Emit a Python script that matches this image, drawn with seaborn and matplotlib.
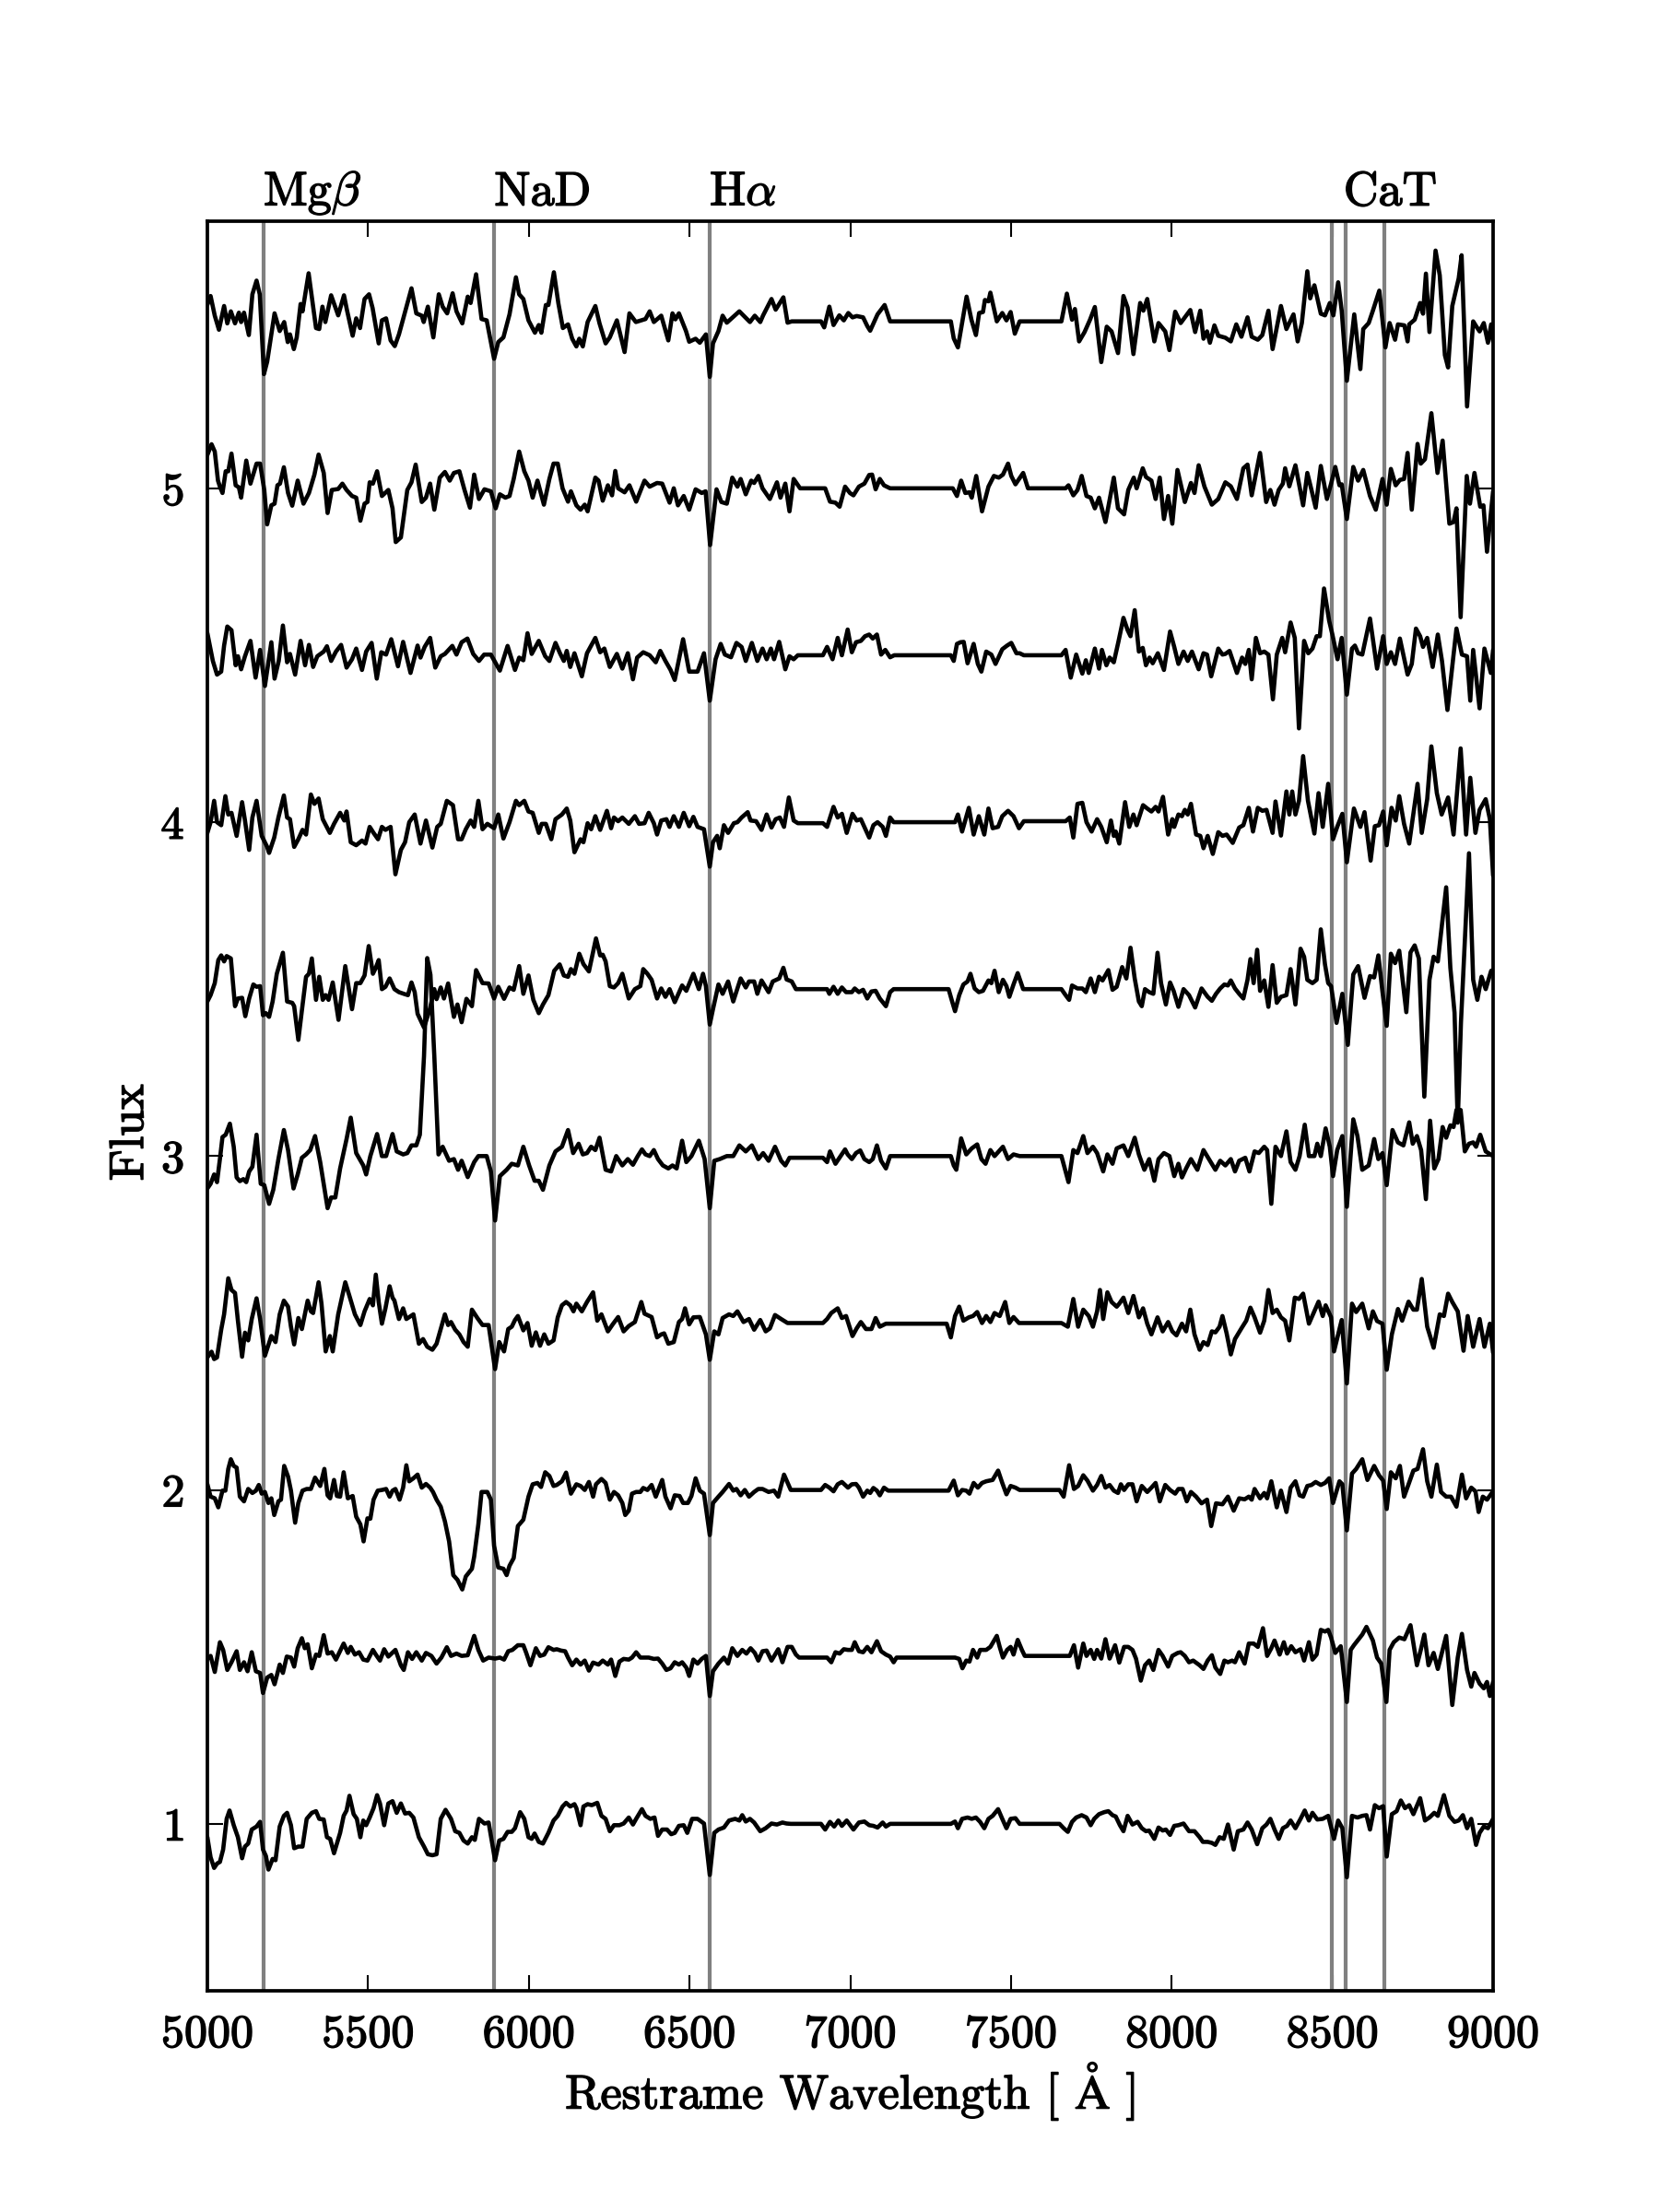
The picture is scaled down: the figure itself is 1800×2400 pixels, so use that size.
import matplotlib
matplotlib.use("Agg")
import matplotlib.pyplot as plt
import matplotlib.patheffects as pe
import seaborn as sns
import pandas as pd

# ---------------- data (wavelength [A], flux) ----------------
spec_55 = [(5000,5.550),(5010,5.576),(5023,5.517),(5036,5.475),(5052,5.546),(5062,5.494),(5073,5.530),(5086,5.494),(5098,5.526),(5105,5.498),(5114,5.526),(5129,5.459),(5140,5.581),(5153,5.622),(5163,5.581),(5176,5.342),(5186,5.379),(5209,5.524),(5225,5.471),(5239,5.498),(5250,5.438),(5257,5.461),(5269,5.417),(5278,5.452),(5290,5.552),(5296,5.530),(5315,5.644),(5325,5.572),(5338,5.480),(5348,5.477),(5358,5.544),(5367,5.498),(5385,5.578),(5407,5.518),(5425,5.578),(5434,5.535),(5452,5.457),(5463,5.509),(5475,5.480),(5489,5.567),(5503,5.581),(5514,5.540),(5533,5.434),(5543,5.503),(5556,5.509),(5570,5.443),(5583,5.426),(5596,5.461),(5635,5.599),(5650,5.524),(5667,5.517),(5673,5.498),(5686,5.544),(5703,5.452),(5720,5.581),(5732,5.544),(5746,5.524),(5763,5.584),(5775,5.530),(5793,5.494),(5810,5.574),(5819,5.555),(5836,5.641),(5853,5.507),(5869,5.503),(5892,5.388),(5905,5.438),(5921,5.452),(5940,5.521),(5960,5.632),(5970,5.581),(5983,5.567),(5999,5.503),(6019,5.466),(6031,5.489),(6039,5.466),(6053,5.549),(6061,5.549),(6078,5.647),(6092,5.554),(6106,5.480),(6122,5.491),(6135,5.448),(6148,5.425),(6157,5.448),(6168,5.425),(6183,5.498),(6207,5.546),(6220,5.494),(6239,5.434),(6252,5.452),(6274,5.503),(6298,5.408),(6313,5.524),(6333,5.498),(6363,5.507),(6376,5.530),(6389,5.498),(6412,5.517),(6434,5.443),(6447,5.524),(6456,5.506),(6467,5.524),(6489,5.471),(6499,5.439),(6519,5.448),(6532,5.436),(6551,5.461),(6563,5.334),(6573,5.434),(6590,5.471),(6603,5.517),(6616,5.496),(6655,5.530),(6688,5.498),(6703,5.517),(6720,5.498),(6729,5.518),(6755,5.567),(6768,5.535),(6792,5.572),(6805,5.496),(6818,5.500),(6909,5.500),(6919,5.482),(6935,5.544),(6948,5.489),(6966,5.518),(6980,5.503),
           (6994,5.525),(7007,5.512),(7020,5.516),(7040,5.512),(7053,5.486),(7062,5.472),(7085,5.521),(7107,5.549),(7124,5.500),(7313,5.500),(7322,5.449),(7335,5.422),(7362,5.574),(7377,5.505),(7391,5.459),(7401,5.525),(7413,5.528),(7419,5.564),(7430,5.560),(7436,5.586),(7456,5.500),(7473,5.525),(7486,5.503),(7499,5.528),(7512,5.463),(7527,5.500),(7657,5.500),(7674,5.583),(7690,5.505),(7699,5.537),(7712,5.440),(7729,5.468),(7746,5.505),(7761,5.543),(7781,5.378),(7798,5.484),(7813,5.470),(7833,5.405),(7850,5.576),(7863,5.541),(7881,5.402),(7902,5.555),(7912,5.532),(7924,5.567),(7946,5.440),(7959,5.495),(7980,5.470),(7993,5.414),(8011,5.529),(8028,5.495),(8058,5.534),(8073,5.468),(8089,5.532),(8099,5.448),(8110,5.470),(8119,5.436),(8133,5.488),(8145,5.457),(8167,5.451),(8184,5.440),(8201,5.491),(8217,5.454),(8236,5.512),(8249,5.454),(8268,5.445),(8282,5.459),(8301,5.532),(8314,5.417),(8340,5.546),(8357,5.477),(8379,5.521),(8392,5.440),(8405,5.495),(8422,5.650),(8431,5.569),(8444,5.608),(8464,5.523),(8477,5.518),(8492,5.555),(8503,5.518),(8518,5.617),(8529,5.532),(8545,5.322),(8568,5.521),(8587,5.357),(8596,5.477),(8613,5.495),(8626,5.532),(8646,5.592),(8665,5.422),(8678,5.495),(8695,5.445),(8704,5.491),(8724,5.488),(8734,5.440),(8739,5.491),(8756,5.505),(8773,5.555),(8782,5.523),(8791,5.643),(8802,5.468),(8821,5.712),(8834,5.638),(8850,5.399),(8860,5.362),(8873,5.546),(8893,5.629),(8902,5.698),(8919,5.245),(8938,5.500),(8947,5.486),(8958,5.470),(8971,5.495),(8984,5.436),(8994,5.491),(9000,5.440)]

spec_50 = [(5000,5.100),(5013,5.132),(5023,5.110),(5033,5.023),(5039,5.005),(5047,4.986),(5057,5.051),(5065,5.051),(5075,5.104),(5088,5.009),(5098,5.003),(5105,4.972),(5121,5.083),(5134,5.014),(5153,5.074),(5164,5.074),(5177,4.995),(5186,4.892),(5199,4.949),(5209,4.954),(5218,5.009),(5226,5.014),(5238,5.063),(5251,4.986),(5264,4.948),(5281,5.023),(5299,4.954),(5316,4.986),(5333,5.041),(5346,5.101),(5362,5.046),(5374,4.926),(5387,4.995),(5407,4.998),(5420,5.014),(5433,4.995),(5450,4.977),(5463,4.972),(5476,4.903),(5489,4.954),(5498,4.959),(5505,5.018),(5515,5.014),(5528,5.051),(5543,4.977),(5563,4.995),(5576,4.940),(5586,4.839),(5602,4.853),(5622,4.995),(5635,5.018),(5648,5.071),(5667,4.959),(5680,4.972),(5693,5.014),(5706,4.936),(5723,5.032),(5739,5.049),(5754,5.023),(5767,5.046),(5784,5.051),(5800,4.995),(5817,4.942),(5830,5.041),(5845,4.968),(5862,4.997),(5882,4.991),(5897,4.940),(5910,4.982),(5927,4.972),(5940,4.977),(5953,5.028),(5970,5.110),(5986,5.051),(5999,5.023),(6012,4.972),(6027,5.023),(6047,4.951),(6064,5.028),(6077,5.074),(6090,5.074),(6105,5.000),(6122,4.960),(6131,4.991),(6148,4.949),(6161,4.936),(6174,4.951),(6183,4.931),(6207,5.032),(6217,5.023),(6230,4.963),(6246,5.009),(6259,4.979),(6269,5.052),(6278,5.000),(6298,4.988),(6313,5.009),(6334,4.960),(6360,5.023),(6376,5.005),(6399,5.016),(6415,5.014),(6438,4.957),(6451,5.000),(6464,4.949),(6482,4.977),(6499,4.936),(6519,4.997),(6538,4.986),(6550,4.991),(6564,4.830),(6584,4.997),(6599,4.959),(6616,4.954),(6633,5.032),(6649,5.005),(6659,5.028),(6675,4.982),(6692,5.023),(6701,5.016),(6714,5.037),(6727,5.000),(6750,4.968),(6772,5.018),(6783,4.972),(6798,5.014),(6811,4.931),(6824,5.028),(6844,5.000),(6922,5.000),(6937,4.960),(6954,4.957),(6967,4.945),(6984,5.005),(6999,4.986),
           (7010,4.979),(7027,5.005),(7044,5.014),(7059,5.040),(7068,5.041),(7079,4.997),(7092,5.028),(7105,5.009),(7124,5.000),(7319,5.000),(7332,4.977),(7345,5.023),(7358,4.986),(7371,4.988),(7378,4.972),(7392,5.037),(7410,4.931),(7430,5.005),(7447,5.037),(7462,5.032),(7475,5.041),(7491,5.074),(7501,5.037),(7514,5.012),(7538,5.046),(7553,5.000),(7670,5.000),(7679,5.009),(7694,4.979),(7707,4.995),(7720,5.037),(7735,4.977),(7748,4.972),(7761,4.940),(7774,4.972),(7794,4.899),(7820,5.032),(7833,4.940),(7852,4.922),(7865,4.995),(7882,5.032),(7891,5.000),(7910,5.060),(7920,5.034),(7937,5.023),(7950,4.968),(7963,5.032),(7976,4.908),(7989,4.977),(8002,4.894),(8018,5.055),(8041,4.959),(8060,5.016),(8071,4.986),(8084,5.069),(8102,5.005),(8125,4.951),(8145,4.968),(8167,5.018),(8184,5.006),(8203,4.968),(8223,5.060),(8236,5.071),(8249,4.979),(8275,5.106),(8294,4.959),(8307,4.995),(8320,4.951),(8333,4.995),(8346,5.014),(8353,5.060),(8366,5.006),(8385,5.069),(8409,4.949),(8422,5.046),(8435,4.995),(8448,4.942),(8464,5.067),(8483,4.968),(8496,5.014),(8509,5.064),(8522,5.009),(8529,5.012),(8545,4.908),(8565,5.064),(8580,5.023),(8596,5.055),(8617,4.977),(8635,4.936),(8656,5.028),(8669,4.951),(8682,5.058),(8697,5.009),(8710,5.025),(8723,5.028),(8734,5.106),(8747,4.936),(8765,5.133),(8775,5.074),(8788,5.087),(8808,5.225),(8827,5.046),(8843,5.143),(8864,4.894),(8877,4.899),(8886,4.940),(8899,4.614),(8918,5.037),(8928,4.954),(8942,5.046),(8960,4.945),(8970,4.949),(8981,4.810),(9000,4.991)]

spec_45 = [(5000,4.566),(5017,4.483),(5030,4.442),(5043,4.451),(5052,4.529),(5062,4.586),(5075,4.575),(5088,4.470),(5095,4.497),(5105,4.458),(5117,4.497),(5134,4.543),(5150,4.433),(5164,4.516),(5179,4.408),(5199,4.539),(5209,4.430),(5222,4.483),(5235,4.589),(5248,4.479),(5257,4.504),(5273,4.442),(5290,4.543),(5304,4.470),(5316,4.531),(5329,4.465),(5342,4.497),(5362,4.511),(5372,4.527),(5385,4.483),(5400,4.511),(5416,4.531),(5433,4.463),(5450,4.488),(5463,4.520),(5481,4.456),(5494,4.511),(5511,4.537),(5527,4.430),(5541,4.509),(5556,4.502),(5572,4.548),(5593,4.467),(5609,4.540),(5632,4.447),(5654,4.529),(5663,4.493),(5676,4.525),(5693,4.552),(5709,4.463),(5726,4.497),(5739,4.504),(5762,4.528),(5775,4.502),(5791,4.539),(5809,4.550),(5827,4.504),(5845,4.483),(5861,4.502),(5882,4.502),(5910,4.454),(5934,4.528),(5957,4.456),(5970,4.493),(5983,4.485),(5996,4.566),(6009,4.504),(6031,4.543),(6051,4.497),(6064,4.483),(6083,4.537),(6097,4.506),(6109,4.483),(6118,4.513),(6129,4.465),(6142,4.506),(6152,4.476),(6165,4.437),(6181,4.506),(6207,4.552),(6222,4.509),(6235,4.520),(6252,4.465),(6274,4.504),(6291,4.460),(6308,4.506),(6324,4.428),(6337,4.493),(6356,4.509),(6376,4.500),(6395,4.479),(6409,4.513),(6425,4.483),(6441,4.456),(6454,4.426),(6480,4.548),(6499,4.451),(6525,4.451),(6545,4.506),(6563,4.364),(6581,4.488),(6597,4.534),(6610,4.502),(6629,4.494),(6646,4.537),(6662,4.525),(6675,4.483),(6694,4.537),(6711,4.483),(6727,4.520),(6740,4.488),(6753,4.520),(6763,4.488),(6779,4.540),(6798,4.458),(6811,4.497),(6824,4.488),(6837,4.500),(6915,4.500),(6928,4.525),(6945,4.488),(6961,4.552),(6974,4.500),
           (6992,4.577),(7005,4.509),(7018,4.539),(7033,4.543),(7046,4.557),(7059,4.562),(7070,4.550),(7083,4.562),(7096,4.502),(7109,4.516),(7124,4.494),(7137,4.500),(7313,4.500),(7322,4.483),(7332,4.534),(7343,4.539),(7353,4.540),(7365,4.476),(7384,4.534),(7397,4.474),(7408,4.451),(7423,4.511),(7439,4.502),(7452,4.474),(7473,4.518),(7488,4.529),(7501,4.537),(7517,4.506),(7527,4.506),(7540,4.500),(7657,4.500),(7670,4.516),(7686,4.433),(7703,4.502),(7722,4.445),(7733,4.485),(7742,4.447),(7761,4.520),(7774,4.460),(7783,4.516),(7797,4.470),(7807,4.493),(7820,4.479),(7834,4.539),(7850,4.612),(7863,4.575),(7872,4.557),(7885,4.635),(7898,4.511),(7910,4.522),(7920,4.470),(7931,4.493),(7941,4.476),(7957,4.506),(7976,4.456),(7995,4.571),(8008,4.525),(8021,4.474),(8037,4.511),(8050,4.483),(8063,4.511),(8084,4.458),(8099,4.506),(8110,4.502),(8123,4.437),(8145,4.520),(8158,4.502),(8167,4.504),(8180,4.513),(8203,4.447),(8219,4.493),(8229,4.474),(8240,4.516),(8249,4.428),(8262,4.552),(8275,4.506),(8288,4.511),(8301,4.502),(8315,4.368),(8327,4.502),(8344,4.552),(8353,4.509),(8370,4.598),(8383,4.552),(8396,4.281),(8412,4.543),(8425,4.506),(8438,4.520),(8451,4.557),(8461,4.557),(8474,4.700),(8490,4.603),(8500,4.562),(8516,4.488),(8529,4.552),(8545,4.382),(8561,4.520),(8570,4.529),(8580,4.506),(8593,4.502),(8617,4.610),(8639,4.460),(8658,4.557),(8669,4.474),(8682,4.509),(8695,4.474),(8710,4.550),(8734,4.442),(8747,4.474),(8760,4.580),(8773,4.557),(8782,4.525),(8795,4.552),(8812,4.465),(8828,4.562),(8841,4.483),(8858,4.336),(8886,4.580),(8903,4.502),(8919,4.497),(8929,4.364),(8938,4.516),(8958,4.341),(8973,4.520),(8993,4.447),(9000,4.516)]

spec_40 = [(5000,3.968),(5010,4.000),(5021,4.064),(5030,4.000),(5043,3.991),(5056,4.078),(5065,4.023),(5075,4.028),(5091,3.959),(5108,4.060),(5117,4.005),(5130,3.917),(5140,4.014),(5153,4.064),(5169,3.959),(5186,3.926),(5192,3.908),(5208,3.954),(5221,4.014),(5238,4.080),(5248,4.014),(5257,4.009),(5270,3.926),(5283,3.949),(5296,3.977),(5307,3.963),(5322,4.083),(5333,4.055),(5346,4.071),(5359,4.009),(5381,3.968),(5394,3.995),(5413,4.028),(5426,4.005),(5433,4.032),(5446,3.940),(5463,3.931),(5481,3.945),(5492,3.936),(5505,3.986),(5517,3.968),(5531,3.949),(5543,3.986),(5554,3.977),(5570,3.986),(5585,3.844),(5602,3.917),(5615,3.940),(5628,4.000),(5645,4.023),(5663,3.936),(5680,4.005),(5700,3.924),(5715,3.986),(5726,3.995),(5745,4.064),(5764,4.051),(5780,3.949),(5791,3.949),(5804,3.979),(5819,4.005),(5830,3.986),(5843,4.064),(5856,3.979),(5871,3.995),(5892,3.982),(5905,4.023),(5921,3.951),(5940,4.000),(5960,4.064),(5970,4.051),(5986,4.064),(5999,4.032),(6012,4.028),(6031,3.968),(6040,3.995),(6053,3.995),(6070,3.949),(6083,4.009),(6103,4.023),(6118,4.041),(6129,4.005),(6142,3.910),(6161,3.949),(6170,3.940),(6183,3.997),(6194,3.979),(6207,4.018),(6222,3.977),(6243,4.034),(6256,3.982),(6265,4.014),(6278,4.003),(6291,4.014),(6311,3.995),(6330,4.018),(6343,3.995),(6360,3.997),(6373,4.028),(6389,3.997),(6399,3.963),(6412,4.005),(6428,4.009),(6438,3.986),(6451,4.018),(6467,3.986),(6482,4.028),(6499,3.988),(6512,4.016),(6525,3.986),(6545,3.979),(6563,3.867),(6573,3.940),(6586,3.959),(6594,3.922),(6607,3.991),(6620,3.968),(6638,3.997),(6649,4.000),(6662,4.014),(6681,4.030),(6690,4.005),(6707,4.003),(6724,3.977),(6740,4.023),(6755,3.984),(6768,4.009),(6781,4.014),(6794,3.986),(6809,4.074),(6824,4.005),(6837,3.997),(6915,3.997),(6928,3.986),(6948,4.046),(6961,4.014),(6974,4.025),(6989,3.968),
           (7007,4.025),(7020,4.005),(7033,4.009),(7044,3.986),(7059,3.954),(7072,3.991),(7085,4.000),(7101,3.986),(7111,3.959),(7124,4.014),(7135,4.000),(7326,4.000),(7335,4.023),(7348,3.972),(7369,4.043),(7384,3.963),(7400,4.018),(7417,3.963),(7430,4.041),(7443,3.982),(7460,3.986),(7473,4.018),(7491,4.034),(7508,4.018),(7525,3.982),(7540,4.003),(7670,4.003),(7683,4.014),(7694,3.954),(7707,4.055),(7722,4.058),(7735,4.000),(7751,3.972),(7768,4.009),(7781,3.986),(7798,3.940),(7811,4.005),(7820,3.959),(7826,3.972),(7837,3.936),(7855,4.060),(7868,3.986),(7881,4.023),(7891,3.991),(7911,4.051),(7924,4.041),(7937,4.032),(7950,4.046),(7959,4.032),(7973,4.076),(7989,3.963),(8002,4.009),(8008,3.986),(8021,4.023),(8032,4.018),(8041,4.037),(8050,4.023),(8060,4.055),(8076,3.963),(8089,3.959),(8099,3.922),(8112,3.959),(8128,3.905),(8145,3.970),(8158,3.959),(8171,3.963),(8190,3.938),(8210,3.984),(8223,3.991),(8240,4.043),(8253,3.972),(8268,4.043),(8282,4.034),(8295,4.037),(8314,3.968),(8323,4.062),(8340,3.960),(8357,4.092),(8366,4.023),(8375,4.092),(8385,4.023),(8396,4.064),(8409,4.198),(8424,4.064),(8444,3.966),(8457,4.087),(8470,3.986),(8487,4.115),(8502,3.949),(8515,3.986),(8531,4.025),(8545,3.880),(8567,4.041),(8587,3.986),(8600,4.030),(8619,3.885),(8632,3.988),(8645,3.991),(8658,4.032),(8669,3.931),(8684,4.043),(8697,4.005),(8708,4.078),(8723,3.995),(8739,3.936),(8765,4.115),(8778,3.968),(8795,4.069),(8808,4.227),(8825,4.087),(8840,4.023),(8860,4.074),(8877,3.963),(8899,4.221),(8916,3.963),(8929,4.133),(8945,3.968),(8958,4.037),(8977,4.069),(8990,4.009),(9000,3.840)]

spec_35 = [(5000,3.463),(5010,3.482),(5023,3.518),(5034,3.587),(5043,3.601),(5052,3.583),(5060,3.599),(5073,3.592),(5086,3.449),(5095,3.472),(5108,3.474),(5118,3.419),(5130,3.472),(5143,3.514),(5153,3.507),(5164,3.509),(5173,3.422),(5182,3.428),(5192,3.417),(5203,3.463),(5216,3.546),(5235,3.609),(5248,3.463),(5264,3.459),(5270,3.449),(5283,3.348),(5294,3.436),(5307,3.537),(5316,3.546),(5325,3.592),(5338,3.468),(5348,3.537),(5359,3.468),(5368,3.482),(5377,3.468),(5390,3.520),(5408,3.408),(5429,3.569),(5450,3.440),(5463,3.518),(5476,3.518),(5489,3.541),(5502,3.629),(5515,3.546),(5524,3.564),(5533,3.587),(5543,3.500),(5554,3.507),(5567,3.532),(5582,3.500),(5596,3.491),(5611,3.486),(5624,3.482),(5635,3.520),(5645,3.491),(5654,3.426),(5674,3.385),(5692,3.440),(5706,3.500),(5713,3.470),(5726,3.505),(5736,3.472),(5749,3.517),(5767,3.417),(5778,3.454),(5791,3.401),(5806,3.471),(5823,3.449),(5836,3.557),(5856,3.518),(5875,3.517),(5892,3.472),(5905,3.507),(5923,3.471),(5940,3.505),(5953,3.498),(5970,3.569),(5983,3.486),(5999,3.541),(6014,3.468),(6031,3.428),(6044,3.454),(6061,3.482),(6079,3.555),(6096,3.574),(6109,3.541),(6122,3.537),(6131,3.560),(6142,3.546),(6157,3.606),(6170,3.575),(6187,3.553),(6209,3.652),(6222,3.601),(6230,3.603),(6239,3.583),(6252,3.509),(6265,3.505),(6278,3.518),(6291,3.546),(6311,3.472),(6330,3.500),(6347,3.509),(6356,3.560),(6369,3.546),(6382,3.528),(6399,3.472),(6412,3.502),(6425,3.477),(6438,3.500),(6454,3.461),(6477,3.511),(6490,3.495),(6512,3.546),(6529,3.500),(6542,3.546),(6551,3.509),(6563,3.394),(6573,3.440),(6590,3.514),(6603,3.486),(6620,3.523),(6636,3.463),(6659,3.532),(6675,3.505),(6685,3.523),(6701,3.523),(6711,3.486),(6724,3.526),(6746,3.491),(6759,3.523),(6779,3.532),(6792,3.564),(6802,3.529),(6818,3.523),(6831,3.500),(6928,3.500),(6935,3.486),(6948,3.507),(6961,3.486),(6974,3.505),(6987,3.491),
           (7005,3.491),(7014,3.502),(7027,3.491),(7040,3.498),(7053,3.472),(7066,3.493),(7079,3.495),(7092,3.472),(7111,3.449),(7124,3.491),(7135,3.500),(7306,3.500),(7317,3.463),(7326,3.434),(7339,3.482),(7352,3.514),(7365,3.523),(7374,3.546),(7387,3.502),(7400,3.491),(7413,3.495),(7430,3.526),(7439,3.518),(7449,3.555),(7462,3.491),(7475,3.528),(7486,3.509),(7495,3.477),(7508,3.514),(7521,3.548),(7538,3.500),(7657,3.500),(7670,3.482),(7681,3.468),(7690,3.511),(7707,3.502),(7722,3.502),(7733,3.491),(7748,3.532),(7761,3.491),(7774,3.537),(7785,3.526),(7803,3.557),(7816,3.498),(7829,3.507),(7846,3.566),(7859,3.532),(7872,3.624),(7885,3.532),(7898,3.463),(7907,3.449),(7917,3.500),(7930,3.491),(7943,3.486),(7956,3.609),(7967,3.518),(7982,3.454),(7995,3.520),(8006,3.495),(8021,3.447),(8037,3.500),(8054,3.482),(8073,3.445),(8093,3.502),(8112,3.477),(8125,3.465),(8138,3.486),(8151,3.502),(8164,3.514),(8175,3.511),(8184,3.526),(8197,3.502),(8210,3.486),(8223,3.472),(8236,3.528),(8245,3.590),(8255,3.518),(8266,3.618),(8275,3.495),(8288,3.526),(8301,3.447),(8314,3.572),(8327,3.459),(8340,3.477),(8357,3.482),(8370,3.560),(8385,3.454),(8401,3.621),(8412,3.597),(8422,3.528),(8438,3.518),(8451,3.528),(8464,3.679),(8477,3.574),(8487,3.518),(8496,3.509),(8513,3.399),(8531,3.486),(8548,3.333),(8565,3.544),(8580,3.569),(8600,3.474),(8617,3.539),(8630,3.535),(8643,3.601),(8656,3.491),(8669,3.390),(8682,3.606),(8695,3.578),(8708,3.615),(8730,3.431),(8743,3.610),(8756,3.631),(8769,3.592),(8786,3.178),(8802,3.528),(8815,3.597),(8828,3.583),(8854,3.805),(8867,3.564),(8880,3.430),(8890,3.100),(8900,3.400),(8925,3.907),(8938,3.528),(8951,3.468),(8964,3.537),(8977,3.500),(8994,3.555),(9000,3.557)]

spec_30 = [(5000,2.903),(5010,2.917),(5021,2.945),(5030,2.922),(5039,2.991),(5047,3.057),(5057,3.064),(5070,3.097),(5082,3.028),(5091,2.936),(5101,2.925),(5112,2.931),(5121,2.922),(5130,2.954),(5140,2.968),(5153,3.064),(5166,2.917),(5177,2.913),(5192,2.857),(5205,2.899),(5221,2.991),(5238,3.078),(5251,3.018),(5268,2.903),(5281,2.945),(5294,2.995),(5307,3.005),(5320,3.018),(5335,3.060),(5351,2.982),(5374,2.844),(5385,2.876),(5398,2.876),(5413,2.963),(5433,3.051),(5446,3.115),(5463,3.009),(5485,2.972),(5494,2.945),(5507,3.000),(5528,3.066),(5543,3.000),(5556,3.000),(5576,3.066),(5589,3.014),(5609,3.005),(5622,3.009),(5635,3.032),(5650,3.032),(5661,3.064),(5674,3.300),(5684,3.593),(5694,3.543),(5706,3.300),(5719,3.005),(5732,3.028),(5752,2.986),(5767,2.991),(5780,2.959),(5791,2.986),(5810,2.937),(5830,2.982),(5843,3.000),(5869,3.000),(5882,2.954),(5895,2.807),(5910,2.940),(5931,2.959),(5947,2.977),(5966,2.972),(5983,3.028),(6001,2.972),(6018,2.926),(6031,2.926),(6044,2.899),(6064,2.972),(6083,3.014),(6103,3.028),(6122,3.078),(6138,3.009),(6155,3.037),(6168,3.005),(6181,3.009),(6194,3.028),(6207,3.018),(6220,3.055),(6239,2.959),(6256,2.954),(6272,3.000),(6291,2.972),(6308,2.991),(6324,2.974),(6339,3.000),(6352,3.020),(6363,3.005),(6376,3.000),(6389,3.018),(6402,2.991),(6417,2.972),(6434,2.963),(6447,2.972),(6460,2.963),(6477,3.046),(6490,2.982),(6506,3.000),(6529,3.046),(6547,2.991),(6563,2.844),(6577,2.986),(6594,2.991),(6616,3.000),(6636,3.000),(6655,3.032),(6675,3.014),(6694,3.032),(6714,2.991),(6729,3.009),(6746,2.986),(6766,3.028),(6785,2.986),(6798,2.972),(6811,2.995),(6824,2.995),(6915,2.995),(6928,2.982),(6937,3.014),(6954,2.977),(6984,3.020),
           (6992,3.005),(7005,2.991),(7018,3.009),(7031,3.017),(7044,2.991),(7059,2.982),(7070,2.991),(7083,3.032),(7096,2.986),(7111,2.963),(7124,3.000),(7313,3.000),(7322,2.972),(7330,2.959),(7345,3.053),(7361,3.005),(7378,3.023),(7395,3.035),(7408,2.991),(7421,2.977),(7436,3.018),(7449,3.000),(7462,3.014),(7475,3.028),(7491,2.991),(7508,3.005),(7527,3.000),(7657,3.000),(7670,2.954),(7679,2.922),(7694,3.018),(7707,3.009),(7725,3.060),(7738,3.009),(7755,3.028),(7768,3.009),(7787,2.954),(7800,3.005),(7816,2.977),(7829,3.023),(7850,3.032),(7865,3.000),(7885,3.055),(7898,3.005),(7915,2.959),(7930,2.991),(7946,2.926),(7959,2.991),(7976,3.009),(7993,3.000),(8008,2.940),(8021,2.977),(8032,2.936),(8045,2.963),(8060,2.991),(8080,2.959),(8099,3.018),(8119,2.986),(8136,2.959),(8151,2.986),(8167,2.972),(8184,2.991),(8197,2.954),(8210,2.986),(8229,2.995),(8242,2.954),(8258,3.014),(8271,3.009),(8288,3.028),(8297,3.018),(8310,2.857),(8323,3.028),(8340,3.000),(8357,3.074),(8370,2.982),(8385,2.959),(8398,3.000),(8414,3.094),(8427,3.000),(8444,3.000),(8453,3.037),(8464,3.000),(8479,3.083),(8492,3.028),(8502,2.940),(8515,3.018),(8531,3.060),(8545,2.848),(8565,3.110),(8578,3.060),(8593,2.959),(8613,2.972),(8630,3.051),(8643,2.991),(8656,3.009),(8669,2.913),(8687,3.078),(8704,3.041),(8721,3.032),(8739,3.101),(8750,3.037),(8763,3.060),(8776,3.018),(8791,2.871),(8804,3.106),(8817,2.963),(8830,2.991),(8843,3.087),(8854,3.055),(8867,3.092),(8877,3.087),(8886,3.138),(8899,3.138),(8912,3.014),(8925,3.037),(8938,3.041),(8947,3.028),(8960,3.064),(8977,3.014),(9000,3.000)]

spec_25 = [(5000,2.397),(5013,2.414),(5021,2.392),(5030,2.397),(5043,2.480),(5052,2.526),(5065,2.634),(5075,2.599),(5086,2.590),(5095,2.507),(5108,2.399),(5117,2.471),(5127,2.448),(5138,2.512),(5153,2.574),(5164,2.512),(5179,2.402),(5199,2.461),(5212,2.443),(5225,2.526),(5238,2.567),(5251,2.549),(5260,2.489),(5270,2.436),(5283,2.515),(5294,2.482),(5312,2.567),(5322,2.535),(5329,2.530),(5346,2.622),(5355,2.558),(5368,2.415),(5381,2.461),(5390,2.415),(5407,2.526),(5429,2.622),(5442,2.581),(5459,2.526),(5476,2.494),(5489,2.535),(5505,2.572),(5515,2.553),(5524,2.645),(5533,2.563),(5543,2.498),(5554,2.544),(5567,2.610),(5576,2.576),(5582,2.567),(5596,2.512),(5609,2.544),(5619,2.512),(5641,2.526),(5658,2.438),(5671,2.452),(5684,2.429),(5700,2.420),(5713,2.438),(5739,2.526),(5749,2.494),(5758,2.503),(5771,2.480),(5784,2.466),(5797,2.443),(5810,2.429),(5823,2.540),(5840,2.515),(5856,2.494),(5875,2.494),(5895,2.362),(5908,2.443),(5923,2.415),(5936,2.482),(5947,2.489),(5957,2.509),(5966,2.521),(5983,2.478),(5996,2.500),(6009,2.432),(6022,2.472),(6035,2.432),(6048,2.466),(6061,2.438),(6077,2.448),(6090,2.517),(6103,2.553),(6116,2.563),(6129,2.553),(6139,2.535),(6148,2.558),(6165,2.535),(6181,2.563),(6200,2.592),(6213,2.507),(6226,2.526),(6246,2.475),(6261,2.496),(6278,2.518),(6295,2.475),(6311,2.491),(6330,2.503),(6350,2.563),(6360,2.528),(6382,2.518),(6399,2.457),(6412,2.466),(6421,2.469),(6434,2.438),(6451,2.443),(6467,2.503),(6477,2.512),(6486,2.544),(6499,2.496),(6512,2.517),(6532,2.518),(6551,2.466),(6563,2.390),(6577,2.475),(6590,2.466),(6603,2.515),(6623,2.526),(6636,2.521),(6649,2.535),(6668,2.503),(6685,2.512),(6701,2.480),(6720,2.509),(6737,2.475),(6750,2.484),(6766,2.524),(6785,2.512),(6805,2.500),(6915,2.500),(6928,2.512),(6941,2.530),(6961,2.544),(6974,2.515),(6987,2.521),
           (7007,2.461),(7020,2.484),(7033,2.503),(7049,2.482),(7066,2.482),(7079,2.515),(7092,2.489),(7111,2.498),(7300,2.498),(7313,2.457),(7326,2.521),(7339,2.549),(7352,2.507),(7369,2.517),(7382,2.521),(7395,2.533),(7410,2.500),(7423,2.521),(7436,2.503),(7449,2.530),(7465,2.521),(7482,2.563),(7495,2.500),(7508,2.518),(7525,2.500),(7657,2.500),(7677,2.489),(7694,2.572),(7709,2.489),(7725,2.540),(7742,2.521),(7755,2.489),(7768,2.535),(7777,2.599),(7787,2.512),(7800,2.592),(7813,2.563),(7829,2.549),(7837,2.558),(7850,2.576),(7865,2.530),(7881,2.581),(7898,2.517),(7911,2.544),(7924,2.498),(7937,2.466),(7956,2.517),(7972,2.475),(7989,2.503),(8002,2.475),(8015,2.463),(8032,2.498),(8045,2.475),(8058,2.540),(8071,2.466),(8087,2.420),(8099,2.443),(8112,2.434),(8125,2.475),(8136,2.472),(8149,2.489),(8158,2.521),(8171,2.469),(8184,2.406),(8197,2.452),(8217,2.484),(8232,2.507),(8245,2.546),(8258,2.517),(8275,2.471),(8288,2.507),(8301,2.599),(8314,2.530),(8327,2.540),(8340,2.517),(8353,2.507),(8366,2.448),(8383,2.576),(8396,2.572),(8409,2.588),(8427,2.498),(8444,2.535),(8457,2.564),(8470,2.521),(8479,2.553),(8496,2.517),(8505,2.415),(8529,2.509),(8545,2.319),(8561,2.558),(8574,2.533),(8593,2.558),(8613,2.484),(8626,2.535),(8639,2.506),(8656,2.498),(8669,2.360),(8685,2.466),(8704,2.542),(8717,2.507),(8737,2.564),(8752,2.540),(8763,2.540),(8778,2.632),(8795,2.489),(8815,2.426),(8834,2.526),(8847,2.521),(8860,2.588),(8873,2.563),(8890,2.535),(8908,2.417),(8921,2.521),(8938,2.429),(8958,2.512),(8973,2.429),(8990,2.498),(9000,2.411)]

spec_20 = [(5000,2.017),(5010,1.980),(5023,1.975),(5034,1.948),(5047,1.998),(5056,1.998),(5065,2.063),(5073,2.092),(5082,2.072),(5091,2.067),(5101,1.980),(5114,1.966),(5127,2.003),(5140,1.991),(5151,1.998),(5160,2.015),(5169,1.989),(5179,1.994),(5190,1.961),(5199,1.975),(5208,1.925),(5221,1.966),(5229,1.971),(5239,2.072),(5251,2.040),(5260,1.998),(5273,1.902),(5283,1.961),(5296,1.998),(5309,2.003),(5322,2.003),(5335,2.037),(5351,2.012),(5364,2.063),(5374,1.984),(5382,1.975),(5394,2.030),(5403,1.982),(5413,1.980),(5424,2.053),(5437,1.975),(5452,1.982),(5463,1.920),(5476,1.897),(5486,1.846),(5498,1.915),(5507,1.914),(5517,1.971),(5530,1.998),(5543,2.000),(5556,2.003),(5567,1.980),(5576,1.998),(5585,2.003),(5598,1.971),(5609,2.007),(5619,2.074),(5628,2.026),(5641,2.035),(5654,2.046),(5667,2.007),(5680,2.018),(5693,2.007),(5702,1.994),(5713,1.971),(5726,1.950),(5739,1.906),(5752,1.846),(5765,1.745),(5778,1.731),(5793,1.702),(5804,1.741),(5823,1.764),(5830,1.800),(5843,1.897),(5853,1.994),(5871,1.994),(5882,1.971),(5892,1.833),(5905,1.768),(5921,1.764),(5931,1.745),(5940,1.773),(5953,1.796),(5966,1.892),(5983,1.911),(5999,1.980),(6012,2.017),(6027,2.021),(6038,2.009),(6051,2.053),(6064,2.042),(6077,2.012),(6087,2.015),(6103,2.026),(6116,2.052),(6131,1.989),(6148,2.017),(6161,2.012),(6174,2.000),(6187,2.024),(6200,1.980),(6209,2.017),(6226,2.033),(6239,2.021),(6252,1.971),(6265,1.994),(6278,1.984),(6291,1.961),(6300,1.925),(6311,1.938),(6321,1.989),(6334,1.994),(6347,1.994),(6356,2.006),(6369,2.000),(6382,2.015),(6395,1.980),(6415,2.030),(6425,1.980),(6441,1.945),(6454,1.984),(6469,1.982),(6480,1.961),(6495,1.961),(6506,1.982),(6519,2.035),(6532,1.998),(6545,1.989),(6563,1.865),(6573,1.961),(6590,1.980),(6603,1.994),(6623,2.018),(6636,1.998),(6646,2.003),(6659,1.984),(6672,2.000),(6685,1.980),(6701,1.994),(6714,2.003),(6727,2.003),(6746,1.994),(6763,1.998),(6776,1.980),(6794,2.046),(6815,2.000),(6909,2.000),(6922,2.015),(6935,2.007),(6948,1.996),(6961,2.017),(6974,2.024),(6993,2.007),
           (7005,2.017),(7018,2.018),(7027,2.007),(7040,1.980),(7053,1.998),(7062,1.991),(7072,2.006),(7083,1.998),(7092,1.984),(7105,2.007),(7118,1.998),(7306,1.998),(7322,2.028),(7335,1.984),(7348,2.000),(7361,1.998),(7371,1.989),(7384,2.021),(7397,2.007),(7410,2.021),(7423,2.026),(7443,2.030),(7460,2.058),(7473,2.021),(7486,1.987),(7499,2.012),(7514,2.007),(7527,2.000),(7651,2.000),(7664,1.980),(7681,2.074),(7696,2.003),(7709,2.012),(7725,2.044),(7738,2.028),(7755,1.998),(7768,2.015),(7781,2.042),(7794,2.007),(7807,2.015),(7820,1.998),(7833,1.991),(7842,2.017),(7852,2.000),(7865,2.017),(7878,2.017),(7891,1.966),(7907,2.012),(7924,1.994),(7937,2.007),(7950,2.021),(7963,1.966),(7980,2.015),(7995,2.000),(8011,1.989),(8021,2.003),(8034,2.003),(8047,1.966),(8060,1.994),(8076,1.980),(8093,1.960),(8110,1.971),(8123,1.892),(8138,1.960),(8158,1.957),(8175,1.980),(8193,1.938),(8210,1.975),(8227,1.972),(8240,1.980),(8249,1.971),(8258,2.003),(8275,1.975),(8288,1.991),(8297,1.975),(8310,2.026),(8327,1.948),(8340,1.998),(8357,1.934),(8370,2.007),(8385,2.026),(8398,1.984),(8409,1.980),(8422,2.012),(8435,2.015),(8448,2.024),(8464,2.015),(8477,2.021),(8490,2.035),(8502,1.961),(8522,2.026),(8531,2.017),(8545,1.879),(8561,2.049),(8574,2.063),(8593,2.092),(8609,2.030),(8630,2.072),(8645,2.044),(8658,2.028),(8669,1.943),(8682,2.053),(8697,2.035),(8710,2.072),(8723,1.980),(8737,2.017),(8752,2.058),(8765,2.063),(8782,2.122),(8795,2.026),(8808,1.980),(8825,2.076),(8838,1.994),(8854,1.980),(8869,1.980),(8886,1.950),(8903,2.046),(8916,1.975),(8932,2.007),(8945,1.996),(8955,1.934),(8968,1.980),(8981,1.971),(9000,1.996)]

spec_15 = [(5000,1.494),(5010,1.503),(5023,1.455),(5039,1.544),(5049,1.521),(5062,1.461),(5075,1.484),(5091,1.517),(5101,1.461),(5114,1.484),(5125,1.457),(5138,1.514),(5151,1.457),(5164,1.452),(5173,1.392),(5186,1.438),(5199,1.446),(5209,1.418),(5225,1.477),(5235,1.452),(5247,1.501),(5260,1.498),(5270,1.471),(5281,1.526),(5294,1.556),(5303,1.526),(5312,1.538),(5325,1.466),(5338,1.507),(5348,1.503),(5362,1.565),(5374,1.510),(5387,1.514),(5400,1.492),(5424,1.540),(5437,1.512),(5446,1.530),(5459,1.507),(5472,1.514),(5485,1.492),(5498,1.489),(5515,1.521),(5524,1.507),(5537,1.489),(5550,1.523),(5563,1.501),(5585,1.521),(5602,1.475),(5611,1.461),(5624,1.514),(5637,1.494),(5650,1.514),(5667,1.489),(5680,1.512),(5697,1.503),(5713,1.480),(5728,1.498),(5745,1.529),(5758,1.503),(5775,1.510),(5791,1.503),(5810,1.505),(5830,1.563),(5843,1.521),(5858,1.489),(5875,1.498),(5895,1.495),(5910,1.498),(5923,1.492),(5936,1.517),(5949,1.521),(5966,1.535),(5983,1.535),(5992,1.512),(6005,1.475),(6022,1.526),(6035,1.503),(6048,1.507),(6061,1.529),(6077,1.521),(6087,1.523),(6100,1.519),(6113,1.517),(6122,1.498),(6135,1.475),(6148,1.492),(6161,1.477),(6174,1.489),(6187,1.459),(6200,1.483),(6217,1.477),(6230,1.489),(6246,1.477),(6256,1.492),(6269,1.443),(6282,1.486),(6295,1.494),(6311,1.492),(6321,1.498),(6334,1.514),(6347,1.498),(6373,1.498),(6389,1.494),(6402,1.495),(6415,1.480),(6428,1.461),(6441,1.466),(6454,1.484),(6467,1.477),(6477,1.484),(6490,1.468),(6499,1.443),(6512,1.492),(6525,1.480),(6538,1.494),(6551,1.503),(6563,1.383),(6573,1.457),(6590,1.480),(6607,1.498),(6620,1.480),(6633,1.526),(6649,1.503),(6664,1.521),(6677,1.510),(6690,1.526),(6703,1.512),(6714,1.489),(6727,1.517),(6740,1.519),(6755,1.489),(6776,1.523),(6789,1.484),(6805,1.530),(6818,1.530),(6831,1.507),(6841,1.498),(6928,1.498),(6941,1.484),(6954,1.514),(6967,1.510),(6980,1.523),(6993,1.521),
           (7005,1.521),(7014,1.544),(7027,1.517),(7040,1.514),(7053,1.530),(7066,1.514),(7083,1.547),(7096,1.517),(7111,1.507),(7124,1.501),(7135,1.484),(7144,1.498),(7326,1.498),(7339,1.494),(7349,1.466),(7361,1.489),(7371,1.486),(7382,1.521),(7395,1.498),(7404,1.521),(7423,1.521),(7436,1.530),(7456,1.563),(7465,1.530),(7475,1.498),(7488,1.521),(7499,1.530),(7508,1.507),(7521,1.551),(7534,1.521),(7543,1.503),(7683,1.503),(7696,1.535),(7709,1.468),(7725,1.540),(7735,1.503),(7748,1.521),(7759,1.494),(7768,1.521),(7781,1.495),(7794,1.553),(7807,1.495),(7824,1.535),(7837,1.483),(7852,1.530),(7865,1.530),(7878,1.521),(7889,1.495),(7904,1.429),(7917,1.475),(7930,1.489),(7943,1.461),(7959,1.521),(7972,1.503),(7989,1.471),(8002,1.503),(8019,1.512),(8028,1.514),(8041,1.503),(8054,1.484),(8067,1.489),(8087,1.475),(8099,1.464),(8112,1.489),(8125,1.505),(8136,1.468),(8151,1.449),(8164,1.489),(8175,1.484),(8188,1.489),(8197,1.484),(8210,1.514),(8227,1.480),(8240,1.540),(8255,1.540),(8268,1.530),(8284,1.586),(8297,1.503),(8310,1.526),(8320,1.549),(8336,1.507),(8349,1.544),(8359,1.510),(8372,1.532),(8385,1.514),(8401,1.523),(8412,1.489),(8427,1.544),(8438,1.492),(8451,1.507),(8464,1.581),(8477,1.576),(8487,1.581),(8496,1.558),(8509,1.512),(8526,1.532),(8545,1.365),(8557,1.521),(8567,1.535),(8580,1.551),(8593,1.567),(8606,1.590),(8626,1.549),(8639,1.498),(8652,1.480),(8668,1.365),(8678,1.521),(8691,1.544),(8708,1.558),(8724,1.553),(8743,1.595),(8763,1.475),(8775,1.521),(8786,1.567),(8799,1.475),(8815,1.512),(8828,1.464),(8854,1.563),(8873,1.356),(8890,1.498),(8903,1.569),(8919,1.461),(8932,1.411),(8942,1.452),(8958,1.420),(8971,1.406),(8981,1.425),(8990,1.383),(9000,1.425)]

spec_10 = [(5000,0.960),(5010,0.900),(5021,0.868),(5030,0.881),(5039,0.886),(5049,0.923),(5060,1.015),(5069,1.040),(5082,0.996),(5095,0.960),(5108,0.897),(5117,0.932),(5127,0.941),(5138,0.983),(5153,0.992),(5164,1.006),(5173,0.923),(5182,0.904),(5190,0.863),(5203,0.895),(5212,0.891),(5225,0.992),(5238,1.024),(5248,1.033),(5260,0.996),(5270,0.927),(5283,0.932),(5296,0.932),(5309,1.015),(5325,1.033),(5338,1.038),(5348,1.015),(5362,1.013),(5372,0.960),(5382,0.955),(5394,0.912),(5413,0.973),(5424,1.024),(5433,1.040),(5442,1.084),(5455,1.029),(5465,1.015),(5476,0.960),(5485,1.010),(5494,0.996),(5505,1.019),(5517,1.047),(5528,1.086),(5537,1.061),(5550,0.996),(5563,1.061),(5576,1.068),(5589,1.033),(5602,1.061),(5615,1.031),(5628,1.033),(5641,1.019),(5658,0.960),(5674,0.932),(5686,0.909),(5700,0.906),(5713,0.909),(5726,1.015),(5741,1.042),(5758,1.015),(5771,0.978),(5784,0.973),(5797,0.950),(5810,0.941),(5823,0.960),(5832,0.952),(5845,1.015),(5862,1.001),(5875,1.004),(5895,0.891),(5908,0.950),(5921,0.955),(5934,0.976),(5947,0.976),(5957,0.987),(5973,1.035),(5986,1.015),(5999,0.960),(6009,0.955),(6018,0.971),(6031,0.946),(6044,0.941),(6061,0.973),(6077,1.010),(6090,1.024),(6105,1.052),(6116,1.063),(6129,1.052),(6142,1.059),(6148,1.047),(6161,0.996),(6170,1.052),(6183,1.059),(6196,1.056),(6213,1.063),(6226,1.024),(6239,1.015),(6252,0.978),(6265,0.996),(6282,0.996),(6295,1.001),(6311,1.019),(6324,0.998),(6334,1.015),(6352,1.044),(6363,1.024),(6378,1.015),(6391,1.019),(6402,0.964),(6415,0.983),(6430,0.983),(6443,0.969),(6454,0.973),(6467,0.994),(6482,0.996),(6493,0.973),(6508,1.015),(6525,1.015),(6545,1.001),(6563,0.847),(6577,0.973),(6590,0.983),(6607,0.989),(6623,1.010),(6642,1.015),(6655,1.010),(6664,1.026),(6675,1.007),(6688,1.015),(6701,1.004),(6720,0.978),(6737,0.987),(6755,1.001),(6772,0.998),(6789,1.004),(6802,1.001),(6815,1.000),(6909,1.000),(6922,0.983),(6937,1.006),(6950,0.992),(6963,1.010),(6974,0.994),(6989,1.010),
           (7010,0.983),(7027,1.004),(7044,1.007),(7059,0.996),(7072,0.994),(7085,0.989),(7101,1.004),(7111,0.992),(7124,1.000),(7313,1.000),(7326,1.007),(7335,0.987),(7348,1.015),(7365,1.019),(7378,1.015),(7391,1.019),(7404,1.006),(7417,0.987),(7430,1.015),(7443,1.024),(7460,1.044),(7473,1.015),(7486,0.987),(7499,1.015),(7514,1.017),(7527,1.000),(7651,1.000),(7664,0.987),(7677,0.976),(7690,1.006),(7703,1.019),(7720,1.026),(7735,1.019),(7748,0.996),(7759,1.015),(7774,1.029),(7790,1.035),(7803,1.038),(7816,1.026),(7826,1.022),(7839,0.996),(7850,0.978),(7863,1.024),(7878,0.998),(7894,1.006),(7907,0.987),(7920,0.978),(7930,0.980),(7946,0.955),(7959,0.989),(7972,0.980),(7982,0.983),(7995,0.967),(8008,0.994),(8021,0.996),(8037,1.001),(8054,0.978),(8071,0.978),(8087,0.960),(8097,0.946),(8112,0.946),(8125,0.943),(8136,0.937),(8149,0.960),(8162,0.955),(8175,0.998),(8193,0.923),(8206,0.978),(8223,0.983),(8236,1.004),(8249,0.983),(8266,0.939),(8282,0.987),(8295,0.998),(8307,1.015),(8320,0.983),(8333,0.955),(8346,0.987),(8359,0.994),(8370,1.010),(8385,0.987),(8401,1.015),(8414,1.040),(8427,1.010),(8438,1.033),(8453,1.013),(8470,1.015),(8487,1.024),(8505,0.955),(8518,1.010),(8531,0.987),(8545,0.840),(8561,1.024),(8578,1.019),(8593,1.024),(8606,1.026),(8617,0.983),(8632,1.056),(8645,1.047),(8658,1.053),(8669,0.902),(8685,1.029),(8700,1.038),(8713,1.070),(8726,1.047),(8739,1.056),(8752,1.029),(8773,1.077),(8788,1.010),(8802,1.019),(8817,1.033),(8828,1.024),(8847,1.086),(8864,1.024),(8880,1.006),(8893,1.010),(8906,1.026),(8919,0.987),(8932,1.015),(8947,0.937),(8958,0.973),(8971,0.992),(8984,0.987),(9000,1.015)]

spectra = [spec_55, spec_50, spec_45, spec_40, spec_35, spec_30, spec_25, spec_20, spec_15, spec_10]

line_wavelengths = [5175, 5893, 6563, 8498, 8542, 8662]
label_texts = [r"Mg$\beta$", "NaD", r"H$\alpha$", "CaT"]
label_positions = [5175, 5893, 6563, 8535]

x_ticks = [5000, 5500, 6000, 6500, 7000, 7500, 8000, 8500, 9000]
y_ticks = [1, 2, 3, 4, 5]

# ---------------- style ----------------
sns.set_style("ticks")
plt.rcParams.update({
    "font.family": ["cmr10", "DejaVu Serif"],
    "mathtext.fontset": "cm",
    "axes.formatter.use_mathtext": True,
    "axes.unicode_minus": False,
    "font.size": 12,
    "text.color": "black",
    "axes.labelcolor": "black",
    "axes.linewidth": 0.8,
    "axes.edgecolor": "black",
    "xtick.color": "black",
    "ytick.color": "black",
})

fig, ax = plt.subplots(figsize=(6, 8), dpi=300)
fig.subplots_adjust(left=0.125, right=0.9, bottom=0.1, top=0.9)

for w in line_wavelengths:
    ax.axvline(w, color="#808080", lw=1.0, zorder=1)

for spec in spectra:
    df = pd.DataFrame(spec, columns=["wavelength", "flux"])
    sns.lineplot(data=df, x="wavelength", y="flux", ax=ax, color="black",
                 lw=1.1, estimator=None, sort=False, zorder=2)

ax.set_xlim(5000, 9000)
ax.set_ylim(0.5, 5.8)
ax.set_xticks(x_ticks)
ax.set_yticks(y_ticks)
ax.tick_params(direction="in", top=True, right=True, length=4, width=0.5,
               labelsize=12, pad=6)
ax.minorticks_off()
for s in ax.spines.values():
    s.set_visible(True)
    s.set_linewidth(0.9)

bold = [pe.withStroke(linewidth=0.35, foreground="black")]

ax.set_xlabel(r"Restrame Wavelength [ $\mathrm{\AA}$ ]", fontsize=12.5, labelpad=1)
ax.set_ylabel("Flux", fontsize=12.5)
ax.yaxis.set_label_coords(-0.043, 0.485)
ax.xaxis.label.set_path_effects(bold)
ax.yaxis.label.set_path_effects(bold)
for lab in ax.get_xticklabels() + ax.get_yticklabels():
    lab.set_path_effects(bold)

trans = ax.get_xaxis_transform()
for txt, xpos in zip(label_texts, label_positions):
    ax.text(xpos, 1.009, txt, transform=trans, ha="left", va="baseline",
            fontsize=12.5, path_effects=bold)

fig.savefig("out.png", dpi=300)
